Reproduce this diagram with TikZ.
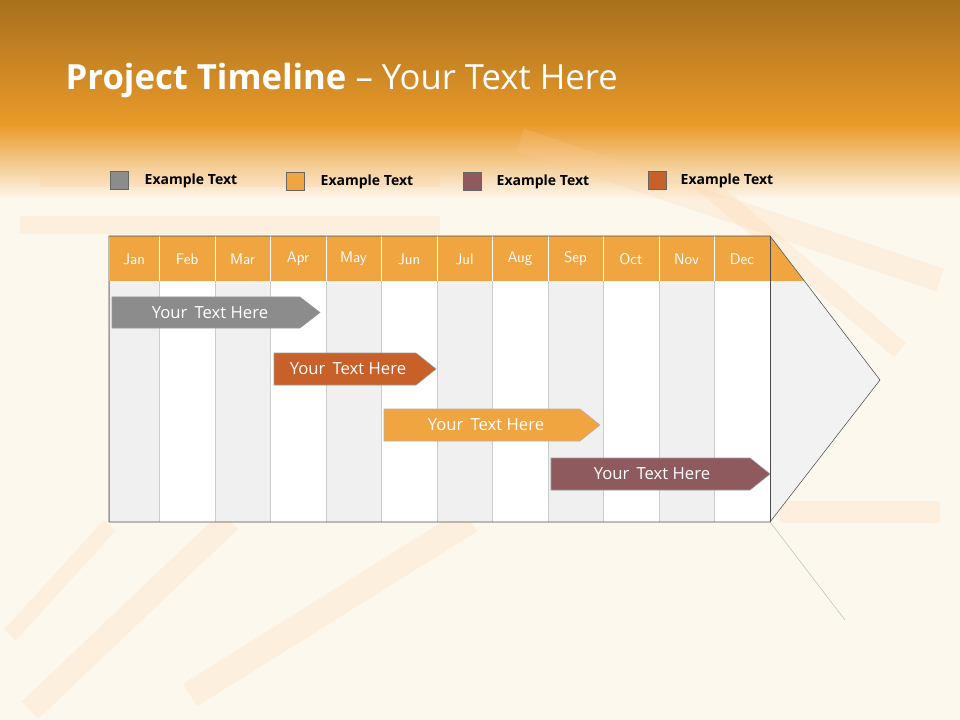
\documentclass[tikz,border=0pt]{standalone}
\usepackage{fontspec}
\setmainfont{Open Sans}
\usetikzlibrary{shapes.arrows}
\definecolor{obar}{HTML}{F0A540}
\definecolor{rbar}{HTML}{C8602A}
\definecolor{gbar}{HTML}{8C8C8C}
\definecolor{mbar}{HTML}{8F5A5E}
\definecolor{cream}{HTML}{FDF8EE}
\definecolor{htop}{HTML}{A8701E}
\definecolor{hmid}{HTML}{EA9A2A}
\tikzset{
 leg/.style={draw=black!60,minimum size=13.5pt,inner sep=0pt},
 legt/.style={anchor=west,font=\bfseries\fontsize{10.5}{12}\selectfont},
 mon/.style={font=\sffamily\fontsize{11.5}{13}\selectfont,text=white},
 bartxt/.style={text=white,font=\fontsize{12.5}{14}\selectfont},
 pencil/.style={line width=#1,orange!40,opacity=0.2,line cap=butt},
}
\begin{document}
\begin{tikzpicture}[x=0.75pt,y=-0.75pt]
\useasboundingbox (0,0) rectangle (960,720);
\fill[cream] (0,0) rectangle (960,720);
\shade[top color=htop,bottom color=hmid] (0,0) rectangle (960,125);
\shade[top color=hmid,bottom color=cream] (0,125) rectangle (960,200);
% faint pencils
\draw[pencil=14pt] (20,225) -- (440,225);
\draw[pencil=14pt] (40,178) -- (440,178);
\draw[pencil=18pt] (520,140) -- (940,280);
\draw[pencil=14pt] (700,180) -- (900,350);
\draw[pencil=16pt] (780,512) -- (940,512);
\draw[pencil=20pt] (190,695) -- (470,520);
\draw[pencil=18pt] (30,710) -- (230,520);
\draw[pencil=12pt] (10,635) -- (110,525);
\node[anchor=west,text=white,font=\fontsize{26}{30}\selectfont] (title) at (61,80) {\textbf{Project Timeline} – Your Text Here};
% legend
\node[leg,fill=gbar] (l1) at (119,180) {}; \node[legt] (t1) at (140,181) {Example Text};
\node[leg,fill=obar] (l2) at (295,181) {}; \node[legt] (t2) at (316,182) {Example Text};
\node[leg,fill=mbar] (l3) at (472,181) {}; \node[legt] (t3) at (492,182) {Example Text};
\node[leg,fill=rbar] (l4) at (657,180) {}; \node[legt] (t4) at (676,181) {Example Text};
% arrow body
\fill[black!5] (770,236) -- (880,380) -- (770,522) -- cycle;
\fill[obar] (770,236) -- (804,281) -- (770,281) -- cycle;
\draw[black!25] (770,522) -- (845,620);
\foreach \a/\b/\m [count=\i] in {109/159/Jan,159/215/Feb,215/270/Mar,270/326/Apr,326/381/May,381/437/Jun,437/492/Jul,492/548/Aug,548/603/Sep,603/659/Oct,659/714/Nov,714/770/Dec}{
  \pgfmathparse{mod(\i,2)==1?"black!6":"white"}\edef\fc{\pgfmathresult}
  \fill[\fc] (\a,281) rectangle (\b,522);
  \fill[obar] (\a,236) rectangle (\b,281);
  \draw[white] (\a,236) -- (\a,281);
  \draw[black!20] (\a,281) -- (\a,522);
  \node[mon] (m\i) at ({(\a+\b)/2},259) {\m};
}
\draw[black!70] (109,236) -- (770,236) -- (880,380) -- (770,522) -- (109,522) -- cycle;
\draw[black!70] (770,236) -- (770,522);
% bars
\fill[gbar,draw=black!40] (112,297) -- (300,297) -- (320,312.5) -- (300,328) -- (112,328) -- cycle;
\node[bartxt] (b1) at (210,313) {Your\, Text Here};
\fill[rbar,draw=black!40] (274,353) -- (416,353) -- (436,369) -- (416,385) -- (274,385) -- cycle;
\node[bartxt] (b2) at (348,369) {Your\, Text Here};
\fill[obar,draw=black!30] (384,409) -- (580,409) -- (600,425) -- (580,441) -- (384,441) -- cycle;
\node[bartxt] (b3) at (486,425) {Your\, Text Here};
\fill[mbar,draw=black!40] (551,458) -- (750,458) -- (770,474) -- (750,490) -- (551,490) -- cycle;
\node[bartxt] (b4) at (652,474) {Your\, Text Here};
\end{tikzpicture}
\end{document}
